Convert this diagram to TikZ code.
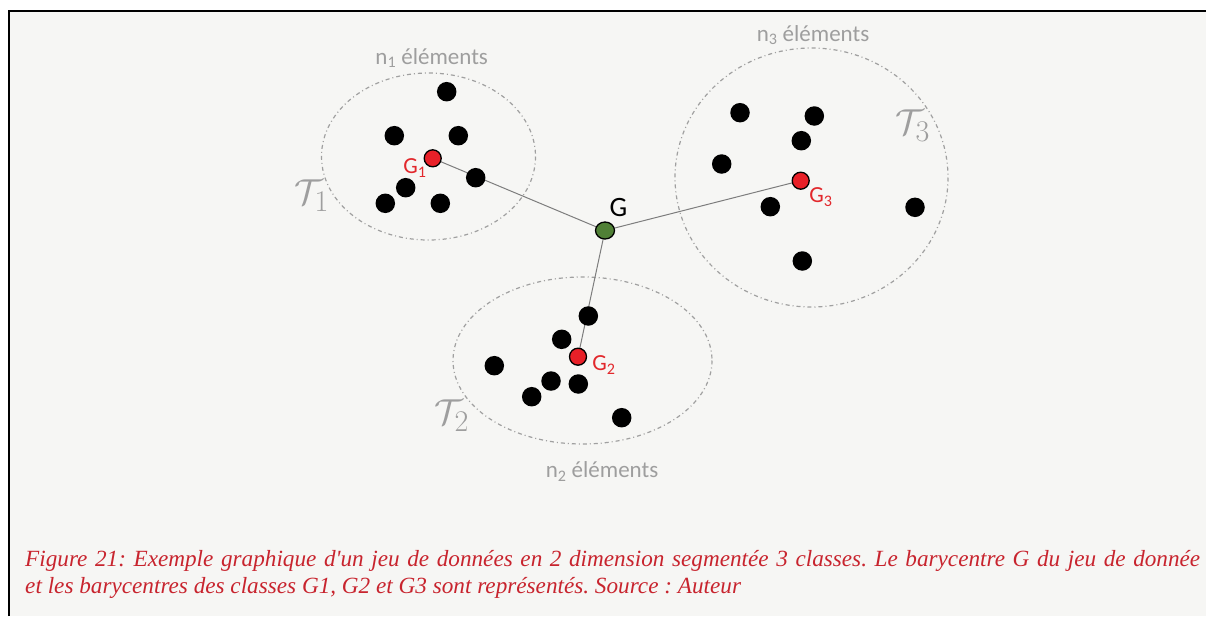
\documentclass[tikz,border=0pt]{standalone}
\usepackage[no-math]{fontspec}
\usetikzlibrary{shapes.geometric}
\setmainfont{Liberation Serif}
\newfontfamily\lblfont{Carlito}
\frenchspacing
\definecolor{bgc}{RGB}{246,246,244}
\definecolor{grayl}{RGB}{158,158,158}
\definecolor{ellc}{RGB}{160,160,160}
\definecolor{redg}{RGB}{232,32,40}
\definecolor{redl}{RGB}{226,40,44}
\definecolor{capred}{RGB}{200,36,46}
\definecolor{greeng}{RGB}{80,128,54}
\definecolor{linec}{RGB}{125,125,125}
\begin{document}
\begin{tikzpicture}[x=1pt,y=-1pt,
  dot/.style={circle,fill=black,draw=none,inner sep=0pt,minimum size=19.5pt},
  bary/.style={circle,fill=redg,draw=black,line width=1.3pt,inner sep=0pt,minimum size=17pt},
  gdot/.style={ellipse,fill=greeng,draw=black,line width=1.3pt,inner sep=0pt,minimum width=19pt,minimum height=17pt},
  clus/.style={draw=ellc,line width=1.2pt,dash pattern=on 4pt off 3pt on 1pt off 3pt},
  glbl/.style={text=redl,font=\lblfont\fontsize{23}{27}\selectfont,inner sep=0pt},
  nlbl/.style={text=grayl,font=\lblfont\fontsize{23}{27}\selectfont,inner sep=0pt},
  tlbl/.style={text=grayl,inner sep=0pt},
  link/.style={draw=linec,line width=1pt},
  captext/.style={text=capred,font=\itshape\fontsize{23.2}{27}\selectfont,inner sep=0pt,anchor=base west}]
\useasboundingbox (0,0) rectangle (1206,616);
\fill[white] (0,0) rectangle (1206,616);
\fill[bgc] (9,11) rectangle (1206,616);
\draw[black,line width=2pt] (9,616) -- (9,10.5) -- (1206,10.5);
% clusters
\draw[clus] (428.5,156.5) ellipse [x radius=107, y radius=83.5];
\draw[clus] (811.5,177.5) ellipse [x radius=136.5, y radius=129.5];
\draw[clus] (582.5,360.5) ellipse [x radius=129.5, y radius=83.5];
% centres
\coordinate (cG) at (605,230.5);
\coordinate (c1) at (432.7,158.3);
\coordinate (c2) at (578,356.7);
\coordinate (c3) at (800.7,180.7);
\draw[link] (cG) -- (c1);
\draw[link] (cG) -- (c2);
\draw[link] (cG) -- (c3);
% cluster 1 points
\node[dot] (p11) at (446.7,91.7) {};
\node[dot] (p12) at (394.3,135.7) {};
\node[dot] (p13) at (458.3,135.7) {};
\node[dot] (p14) at (475.7,177.7) {};
\node[dot] (p15) at (405.7,187.7) {};
\node[dot] (p16) at (385.3,203.3) {};
\node[dot] (p17) at (440.3,203.3) {};
% cluster 3 points
\node[dot] (p31) at (740,112.7) {};
\node[dot] (p32) at (814.3,116) {};
\node[dot] (p33) at (801.3,140.7) {};
\node[dot] (p34) at (721.7,164) {};
\node[dot] (p35) at (770.3,206.7) {};
\node[dot] (p36) at (915,207.3) {};
\node[dot] (p37) at (802.3,261) {};
% cluster 2 points
\node[dot] (p21) at (588.3,316) {};
\node[dot] (p22) at (561.7,339.3) {};
\node[dot] (p23) at (494.3,365.7) {};
\node[dot] (p24) at (551,381) {};
\node[dot] (p25) at (578.3,384) {};
\node[dot] (p26) at (531.7,396.7) {};
\node[dot] (p27) at (621.7,417.7) {};
% barycentres
\node[bary] (G1) at (c1) {};
\node[bary] (G2) at (c2) {};
\node[bary] (G3) at (c3) {};
\node[gdot] (G) at (cG) {};
% labels
\node[glbl] (lG1) at (415,168) {G\textsubscript{1}};
\node[glbl] (lG2) at (604,365) {G\textsubscript{2}};
\node[glbl] (lG3) at (821,197) {G\textsubscript{3}};
\node[text=black,font=\lblfont\fontsize{28}{31}\selectfont,inner sep=0pt] (lG) at (618.5,208) {G};
\node[nlbl] (n1) at (431.7,58) {n\textsubscript{1} éléments};
\node[nlbl] (n3) at (813,35) {n\textsubscript{3} éléments};
\node[nlbl] (n2) at (602,471.7) {n\textsubscript{2} éléments};
\node[tlbl] (T1) at (312,196) {\scalebox{1.45}{\fontsize{24.88}{30}\selectfont$\mathcal{T}_1$}};
\node[tlbl] (T2) at (452,416) {\scalebox{1.45}{\fontsize{24.88}{30}\selectfont$\mathcal{T}_2$}};
\node[tlbl] (T3) at (913,126) {\scalebox{1.45}{\fontsize{24.88}{30}\selectfont$\mathcal{T}_3$}};
% caption
\node[captext] (cap1) at (25,566.5) {\makebox[1175pt][s]{Figure 21: Exemple graphique d\textquotesingle un jeu de données en 2 dimension segmentée 3 classes. Le barycentre G du jeu de donnée}};
\node[captext] (cap2) at (25,593) {et les barycentres des classes G1, G2 et G3 sont représentés. Source : Auteur};
\end{tikzpicture}
\end{document}
